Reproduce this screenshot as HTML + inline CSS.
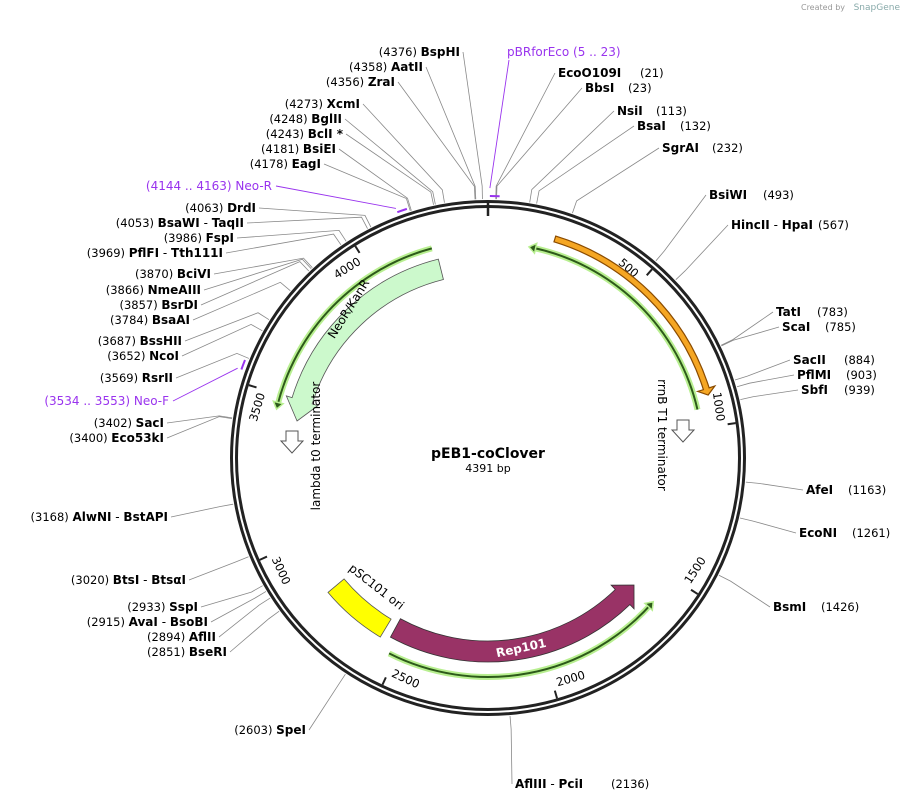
<!DOCTYPE html>
<html><head><meta charset="utf-8">
<style>
html,body{margin:0;padding:0;background:#fff;}
svg{display:block;font-family:"DejaVu Sans","Liberation Sans",sans-serif;}
.n{font-size:11.5px;fill:#000;}
</style></head>
<body>
<svg id="map" width="905" height="802" viewBox="0 0 905 802" xmlns="http://www.w3.org/2000/svg">
<text x="845" y="10" font-size="8" fill="#999" text-anchor="end">Created by</text>
<text x="900" y="10" font-size="9" fill="#8aa" text-anchor="end">SnapGene</text>
<g id="lines"></g>
<g id="ring"></g>
<g id="feats"></g>
<g id="labels"></g>
<text x="488" y="458" text-anchor="middle" font-size="14" font-weight="bold">pEB1-coClover</text>
<text x="488" y="472" text-anchor="middle" font-size="11">4391 bp</text>
</svg>
<script>
const TOTAL = 4391;
const cx = 488, cy = 458;
// right-side enzymes
const rNames = ["EcoO109I","BbsI","NsiI","BsaI","SgrAI","BsiWI","HincII|HpaI","TatI","ScaI","SacII","PflMI","SbfI","AfeI","EcoNI","BsmI","AflIII|PciI"];
const rPos = [21,23,113,132,232,493,567,783,785,884,903,939,1163,1261,1426,2136];
// label layout (x of name, x of number, baseline y)
const rLX = [558,585,617,637,662,709,731,776,782,793,797,801,806,799,773,515];
const rNX = [640,628,656,680,712,763,818,817,825,844,846,844,848,852,821,611];
const rLY = [77,92,115,130,152,199,229,316,331,364,379,394,494,537,611,788];
// left-side enzymes
const lNames = ["BspHI","AatII","ZraI","XcmI","BglII","BclI *","BsiEI","EagI","DrdI","BsaWI|TaqII","FspI","PflFI|Tth111I","BciVI","NmeAIII","BsrDI","BsaAI","BssHII","NcoI","RsrII","SacI","Eco53kI","AlwNI|BstAPI","BtsI|BtsαI","SspI","AvaI|BsoBI","AflII","BseRI","SpeI"];
const lPos = [4376,4358,4356,4273,4248,4243,4181,4178,4063,4053,3986,3969,3870,3866,3857,3784,3687,3652,3569,3402,3400,3168,3020,2933,2915,2894,2851,2603];
const lEX = [460,423,395,360,342,343,336,321,256,244,234,223,211,201,198,190,182,179,173,164,164,168,186,198,208,216,227,306];
const lLY = [56,71,86,108,123,138,153,168,212,227,242,257,278,294,309,324,345,360,382,427,442,521,584,611,626,641,656,734];
// features
const featNames = ["rrnB T1 terminator","terminator-line","NeoR/KanR","NeoR-line","Rep101","Rep101-line","pSC101 ori"];
const featStart = [207,134,3427,3452,1598,1598,2574];
const featEnd = [903,939,4220,4208,2544,2523,2805];
// primers
const primerNames = ["pBRforEco","Neo-R","Neo-F"];
const primerStart = [5,4144,3534];
const primerEnd = [23,4163,3553];
const tickVals = [500,1000,1500,2000,2500,3000,3500,4000];

const NS = "http://www.w3.org/2000/svg";
function ang(bp){return bp/TOTAL*2*Math.PI;}
function pt(bp,r){const a=ang(bp);return [cx+r*Math.sin(a), cy-r*Math.cos(a)];}
function mk(tag,attrs,parent){const e=document.createElementNS(NS,tag);for(const k in attrs)e.setAttribute(k,attrs[k]);parent.appendChild(e);return e;}
const gLines=document.getElementById('lines'),gRing=document.getElementById('ring'),gF=document.getElementById('feats'),gL=document.getElementById('labels');

let c1=mk('circle',{cx:cx,cy:cy,r:256.5,fill:'none',stroke:'#222','stroke-width':3},gRing);


let c2=mk('circle',{cx:cx,cy:cy,r:251.5,fill:'none',stroke:'#222','stroke-width':3},gRing);


let ot=mk('line',{x1:cx,y1:cy-258,x2:cx,y2:cy-242,stroke:'#222','stroke-width':2.5},gRing);


tickVals.forEach(v=>{
  const a=pt(v,250),b=pt(v,242);
  const t=mk('line',{x1:a[0],y1:a[1],x2:b[0],y2:b[1],stroke:'#222','stroke-width':2},gRing);
  
  
  let deg=v/TOTAL*360; let rot=(deg>90&&deg<270)?deg-180:deg;
  const p=pt(v-55,236);
  const tx=mk('text',{x:p[0],y:p[1],'font-size':11.5,'text-anchor':'middle','dominant-baseline':'middle',transform:`rotate(${rot} ${p[0]} ${p[1]})`},gRing);
  tx.textContent=v;
  
  
});

function arcPath(s,e,r){const a=pt(s,r),b=pt(e,r);const large=((e-s)/TOTAL*360)>180?1:0;return `M${a[0]},${a[1]} A${r},${r} 0 ${large} 1 ${b[0]},${b[1]}`;}
function bandArrow(s,e,r1,r2,head,hl){
  const rm=(r1+r2)/2;
  let d='';
  if(head==='end'){
    const h=e-hl;
    const o0=pt(s,r2),o1=pt(h,r2),f1=pt(h,r2+6),tp=pt(e,rm),f2=pt(h,r1-6),i1=pt(h,r1),i0=pt(s,r1);
    const L=((h-s)/TOTAL*360)>180?1:0;
    d=`M${o0} A${r2},${r2} 0 ${L} 1 ${o1} L${f1} L${tp} L${f2} L${i1} A${r1},${r1} 0 ${L} 0 ${i0} Z`;
  } else if(head==='start'){
    const h=s+hl;
    const tp=pt(s,rm),f1=pt(h,r2+6),o1=pt(h,r2),o2=pt(e,r2),i2=pt(e,r1),i1=pt(h,r1),f2=pt(h,r1-6);
    const L=((e-h)/TOTAL*360)>180?1:0;
    d=`M${tp} L${f1} L${o1} A${r2},${r2} 0 ${L} 1 ${o2} L${i2} A${r1},${r1} 0 ${L} 0 ${i1} L${f2} Z`;
  } else {
    const o0=pt(s,r2),o1=pt(e,r2),i1=pt(e,r1),i0=pt(s,r1);
    const L=((e-s)/TOTAL*360)>180?1:0;
    d=`M${o0} A${r2},${r2} 0 ${L} 1 ${o1} L${i1} A${r1},${r1} 0 ${L} 0 ${i0} Z`;
  }
  return d.replace(/,/g,' ').replace(/(\d) (\d|-)/g,'$1,$2');
}
function lineArrow(s,e,r,head,color,name){
  const g=mk('g',{},gF);
  
  
  const hl=22;
  let s2=s,e2=e;
  if(head==='end')e2=e-hl/3;else s2=s+hl/3;
  mk('path',{d:arcPath(s2,e2,r),fill:'none',stroke:'#b8ef90','stroke-width':6},g);
  mk('path',{d:arcPath(s2,e2,r),fill:'none',stroke:color,'stroke-width':2},g);
  let tip,b1,b2;
  if(head==='end'){tip=pt(e,r);b1=pt(e-hl,r+5);b2=pt(e-hl,r-5);}
  else{tip=pt(s,r);b1=pt(s+hl,r+5);b2=pt(s+hl,r-5);}
  mk('path',{d:`M${b1[0]},${b1[1]} L${tip[0]},${tip[1]} L${b2[0]},${b2[1]} Z`,fill:color,stroke:'#b8ef90','stroke-width':1.5},g);
}
(function(){
  const g=mk('g',{},gF);
  
  
  mk('path',{d:bandArrow(featStart[0],featEnd[0],226,232,'end',20),fill:'#f5a623',stroke:'#8a4b00','stroke-width':1.2},g);
})();
lineArrow(featStart[1],featEnd[1],215,'start','#2d5a1a','terminator-feature-line');
(function(){
  const p=mk('path',{d:bandArrow(featStart[2],featEnd[2],184,205,'start',75),fill:'#ccf9cc',stroke:'#555','stroke-width':0.8},gF);
  
  
})();
lineArrow(featStart[3],featEnd[3],217,'start','#2d5a1a','neor-feature-line');
(function(){
  const p=mk('path',{d:bandArrow(featStart[4],featEnd[4],183,204,'start',60),fill:'#993366',stroke:'#333','stroke-width':0.8},gF);
  
  
})();
lineArrow(featStart[5],featEnd[5],219,'start','#2d5a1a','rep101-feature-line');
(function(){
  const p=mk('path',{d:bandArrow(featStart[6],featEnd[6],188,209,'none',0),fill:'#ffff00',stroke:'#555','stroke-width':0.8},gF);
  
  
})();
function rtext(x,y,rot,txt,name,extra){
  const t=mk('text',Object.assign({x:x,y:y,'font-size':12,'text-anchor':'middle',transform:`rotate(${rot} ${x} ${y})`},extra||{}),gF);
  t.textContent=txt;
  
  
}
rtext(352,311,-58,'NeoR/KanR','neor-kanr-label');
rtext(522,652,-12,'Rep101','rep101-label',{fill:'#fff','font-weight':'bold'});
rtext(374,590,38,'pSC101 ori','psc101-ori-label');
rtext(658,435,90,'rrnB T1 terminator','rrnb-t1-label');
rtext(320,446,-90,'lambda t0 terminator','lambda-t0-label');
function termGlyph(x,y,name){
  const p=mk('path',{d:`M${x-6},${y-10} L${x+6},${y-10} L${x+6},${y} L${x+11},${y} L${x},${y+12} L${x-11},${y} L${x-6},${y} Z`,fill:'#fff',stroke:'#555','stroke-width':1},gF);
  
  
}
termGlyph(683,430,'rrnb-terminator-glyph');
termGlyph(292,441,'lambda-terminator-glyph');

function leader(bp,ax,ay,color){
  const a=pt(bp,259),b=pt(bp,272);
  mk('polyline',{points:`${a[0]},${a[1]} ${b[0]},${b[1]} ${ax},${ay}`,fill:'none',stroke:color||'#888','stroke-width':0.8},gLines);
}
function nameSpans(t,name){
  const parts=name.split('|');
  parts.forEach((p,i)=>{
    if(i>0){const s=mk('tspan',{'font-weight':'normal','font-size':12},t);s.textContent=' - ';}
    const s=mk('tspan',{'font-weight':'bold','font-size':12},t);s.textContent=p;
  });
}
rNames.forEach((n,i)=>{
  leader(rPos[i],rLX[i]-3,rLY[i]-4);
  const t=mk('text',{x:rLX[i],y:rLY[i]},gL);
  nameSpans(t,n);
  
  
  const u=mk('text',{x:rNX[i],y:rLY[i],class:'n'},gL);
  u.textContent='('+rPos[i]+')';
  
  
});
lNames.forEach((n,i)=>{
  leader(lPos[i],lEX[i]+3,lLY[i]-4);
  const t=mk('text',{x:lEX[i],y:lLY[i],'text-anchor':'end'},gL);
  const s=mk('tspan',{'font-size':11.5},t);s.textContent='('+lPos[i]+')  ';
  nameSpans(t,n);
  
  
});
const primerLX=[507,272,169], primerLY=[56,190,405];
primerNames.forEach((n,i)=>{
  mk('path',{d:arcPath(primerStart[i],primerEnd[i]+8,262),fill:'none',stroke:'#9933ee','stroke-width':2},gLines);
  const a2=pt(primerStart[i],266);
  if(i===0){
    mk('line',{x1:a2[0],y1:a2[1]-4,x2:primerLX[i]+2,y2:primerLY[i]+4,stroke:'#9933ee','stroke-width':0.9},gLines);
  } else {
    mk('line',{x1:a2[0],y1:a2[1],x2:primerLX[i]+4,y2:primerLY[i]-4,stroke:'#9933ee','stroke-width':0.9},gLines);
  }
  let t;
  if(i===0){
    t=mk('text',{x:primerLX[i],y:primerLY[i],fill:'#9933ee','font-size':12},gL);
    t.textContent='pBRforEco   ('+primerStart[i]+' .. '+primerEnd[i]+')';
  } else {
    t=mk('text',{x:primerLX[i],y:primerLY[i],fill:'#9933ee','font-size':12,'text-anchor':'end'},gL);
    t.textContent='('+primerStart[i]+' .. '+primerEnd[i]+')  '+n;
  }
  
  
});
</script>
</body></html>
